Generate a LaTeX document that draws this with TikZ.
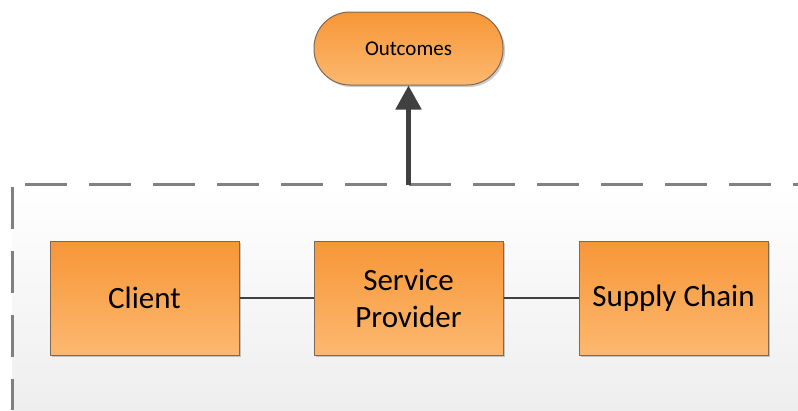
\documentclass[tikz,border=0pt]{standalone}
\usepackage{fontspec}
\setmainfont{Carlito}
\usetikzlibrary{arrows.meta,shadows}

\definecolor{boxtop}{RGB}{247,150,55}
\definecolor{boxbottom}{RGB}{252,184,112}
\definecolor{boxline}{RGB}{125,105,85}
\definecolor{linkgray}{RGB}{64,64,64}
\definecolor{dashgray}{RGB}{128,128,128}
\definecolor{panelbottom}{RGB}{238,238,238}

\tikzset{
	unitbox/.style={draw=boxline, line width=1pt, top color=boxtop, bottom color=boxbottom,
		minimum width=189pt, minimum height=114pt, inner sep=0pt, align=center,
		font=\fontsize{31}{37}\selectfont,
		drop shadow={shadow xshift=2pt, shadow yshift=-2pt, opacity=0.2, fill=black}},
	goalbox/.style={draw=boxline, line width=1pt, top color=boxtop, bottom color=boxbottom,
		rounded corners=36pt, minimum width=189pt, minimum height=73pt, inner sep=0pt,
		font=\fontsize{21}{25}\selectfont,
		drop shadow={shadow xshift=2pt, shadow yshift=-2pt, opacity=0.2, fill=black}},
	link/.style={draw=linkgray, line width=2pt}
}

\begin{document}
\begin{tikzpicture}[x=1pt, y=-1pt]
		% Canvas and panel
		\fill[white] (0,0) rectangle (798,410);
		\useasboundingbox (0,0) rectangle (798,410);
		\fill[top color=white, bottom color=panelbottom] (12,184) rectangle (798,410);
		\draw[dashgray, line width=3pt, dash pattern=on 42pt off 22pt] (25,184) -- (798,184);
		\draw[dashgray, line width=3pt, dash pattern=on 42pt off 22pt] (12,187) -- (12,410);

		% Define the units
		\node[unitbox] (client) at (144.5,298) {Client};
		\node[unitbox] (provider) at (408.5,298) {Service\\Provider};
		\node[unitbox] (supply) at (673.5,298) {Supply Chain};

		% Define the outcome
		\node[goalbox] (outcomes) at (408.5,48.5) {Outcomes};
		\coordinate (panel) at (408.5,185);

		% Define the links
		\draw[link] (client) -- (provider);
		\draw[link] (provider) -- (supply);
		\draw[draw=linkgray, line width=5pt, -{Triangle[length=24pt, width=25pt]}] (panel) -- (outcomes);
	\end{tikzpicture}
\end{document}
